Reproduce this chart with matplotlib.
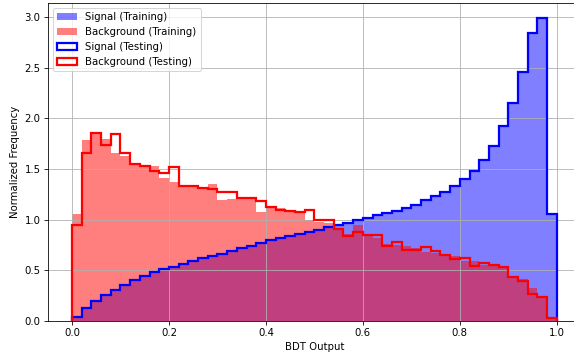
import numpy as np
import matplotlib
matplotlib.use("Agg")
import matplotlib.pyplot as plt

# 50 equal bins on [0, 1]
BIN_EDGES = np.linspace(0.0, 1.0, 51)

# normalized counts, one value per bin
sig_train = [0.04, 0.13, 0.20, 0.26, 0.31, 0.36, 0.40, 0.44, 0.48, 0.51,
             0.53, 0.56, 0.59, 0.62, 0.64, 0.66, 0.69, 0.72, 0.74, 0.77,
             0.80, 0.82, 0.84, 0.86, 0.88, 0.90, 0.93, 0.95, 0.97, 1.00,
             1.02, 1.05, 1.07, 1.09, 1.12, 1.15, 1.19, 1.23, 1.27, 1.33,
             1.40, 1.48, 1.59, 1.73, 1.93, 2.15, 2.46, 2.84, 2.99, 1.06]

bkg_train = [1.06, 1.79, 1.85, 1.80, 1.66, 1.63, 1.55, 1.53, 1.53, 1.41,
             1.37, 1.33, 1.32, 1.30, 1.35, 1.19, 1.20, 1.20, 1.21, 1.08,
             1.12, 1.12, 1.10, 1.07, 1.00, 0.98, 0.97, 0.92, 0.86, 0.95,
             0.84, 0.82, 0.76, 0.75, 0.74, 0.72, 0.68, 0.67, 0.65, 0.64,
             0.59, 0.59, 0.55, 0.54, 0.52, 0.44, 0.41, 0.33, 0.23, 0.04]

sig_test = [0.04, 0.13, 0.20, 0.26, 0.31, 0.36, 0.40, 0.44, 0.48, 0.51,
            0.53, 0.56, 0.59, 0.62, 0.64, 0.66, 0.69, 0.72, 0.74, 0.77,
            0.80, 0.82, 0.84, 0.86, 0.88, 0.90, 0.93, 0.95, 0.97, 1.00,
            1.02, 1.05, 1.07, 1.09, 1.12, 1.15, 1.19, 1.23, 1.27, 1.33,
            1.40, 1.48, 1.59, 1.73, 1.93, 2.15, 2.46, 2.84, 2.99, 1.06]

bkg_test = [0.95, 1.66, 1.86, 1.74, 1.85, 1.66, 1.55, 1.53, 1.48, 1.46,
            1.52, 1.33, 1.33, 1.31, 1.30, 1.27, 1.27, 1.21, 1.21, 1.18,
            1.13, 1.10, 1.09, 1.08, 1.10, 1.00, 1.00, 0.91, 0.84, 0.88,
            0.85, 0.85, 0.74, 0.78, 0.70, 0.70, 0.73, 0.69, 0.65, 0.61,
            0.62, 0.54, 0.57, 0.55, 0.53, 0.43, 0.39, 0.27, 0.24, 0.03]

DPI = 73
W, H = 574, 352


def main():
    centers = 0.5 * (BIN_EDGES[:-1] + BIN_EDGES[1:])

    # lower dpi => text and lines come out at the reference's (shrunken) scale
    fig = plt.figure(figsize=(W / DPI, H / DPI), dpi=DPI)
    # the reference is cropped: right spine sits just past the image edge
    ax = fig.add_axes([47.75 / W, 31 / H, (581 - 47.75) / W, (349 - 31) / H])

    ax.hist(centers, bins=BIN_EDGES, weights=sig_train, color='blue',
            alpha=0.5, label='Signal (Training)')
    ax.hist(centers, bins=BIN_EDGES, weights=bkg_train, color='red',
            alpha=0.5, label='Background (Training)')
    ax.hist(centers, bins=BIN_EDGES, weights=sig_test, histtype='step',
            color='blue', linewidth=2.2, label='Signal (Testing)')
    ax.hist(centers, bins=BIN_EDGES, weights=bkg_test, histtype='step',
            color='red', linewidth=2.2, label='Background (Testing)')

    ax.set_xlabel('BDT Output')
    ax.set_ylabel('Normalized Frequency')
    ax.legend(loc='upper left')
    ax.grid(True)

    fig.savefig('out.png', dpi=DPI)


if __name__ == '__main__':
    main()
